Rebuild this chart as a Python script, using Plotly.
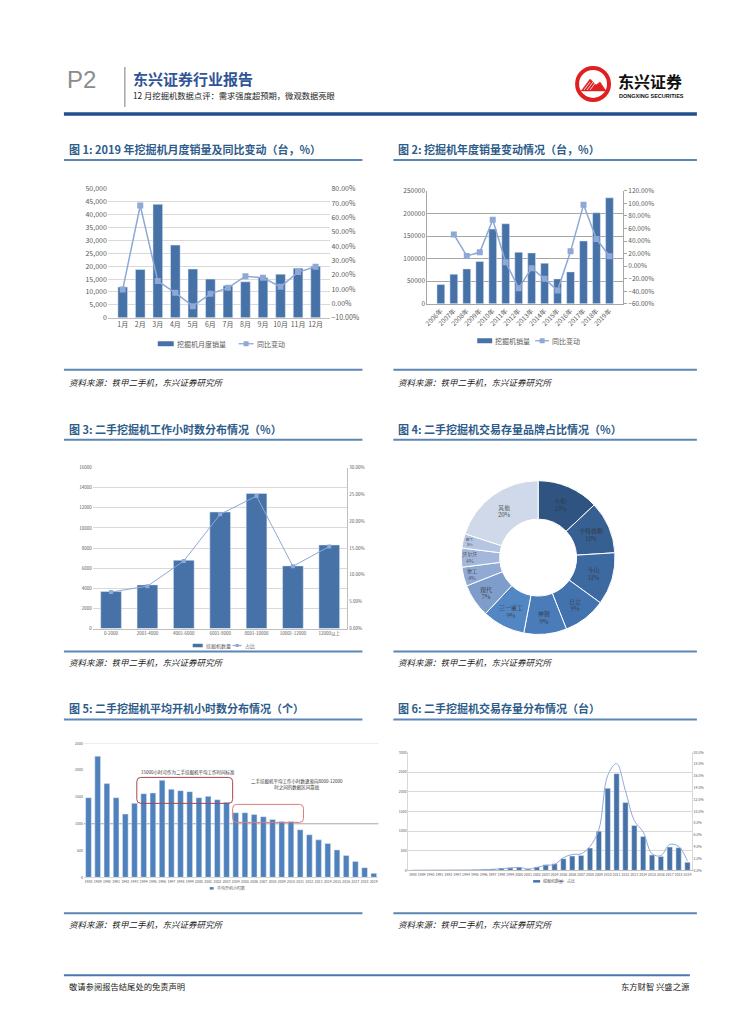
import plotly.graph_objects as go

W, H = 755, 1024
# empirical compensation between layout pixels and photographed pixels
OX, SX = 12.0, 0.995
OY, SY = 13.0, 0.991
def X(px): return ((px - OX) / SX) / W
def Y(py): return 1 - ((py - OY) / SY) / H

FONT = "Noto Sans CJK SC, Noto Sans, sans-serif"
BAR = "#4672A8"
BAR5 = "#4F81BD"
LINE = "#8EA9D6"
TITLE_C = "#2E5C8A"
TICK_C = "#595959"

# ---------------- data ----------------
months = ["1月", "2月", "3月", "4月", "5月", "6月", "7月", "8月", "9月", "10月", "11月", "12月"]
monthly_sales = [11900, 18700, 44000, 28200, 18900, 15000, 12400, 13950, 15600, 16900, 19250, 20000]
monthly_yoy = [9.8, 68.4, 15.6, 7.4, -1.9, 6.7, 10.9, 19.0, 17.9, 11.6, 21.9, 25.6]

years2 = ["2006年", "2007年", "2008年", "2009年", "2010年", "2011年", "2012年", "2013年",
          "2014年", "2015年", "2016年", "2017年", "2018年", "2019年"]
annual_sales = [42600, 65400, 77200, 93400, 165400, 177200, 114000, 112500,
                89700, 55100, 70600, 139000, 201500, 234600]
annual_yoy = [None, 50.6, 16.2, 22.0, 73.9, 6.1, -35.1, -3.4, -20.3, -38.8, 23.6, 97.7, 43.2, 15.7]

hour_bins = ["0-2000", "2001-4000", "4001-6000", "6001-8000", "8001-10000", "10001-12000", "12000以上"]
hour_counts = [3675, 4340, 6790, 11590, 13440, 6230, 8310]
hour_share = [6.8, 7.9, 12.6, 21.3, 24.7, 11.6, 15.3]

brands = ["小松", "卡特彼勒", "斗山", "日立", "神钢", "三一重工", "现代", "徐工", "沃尔沃", "柳工", "其他"]
brand_share = [13, 11, 11, 9, 9, 9, 7, 4, 4, 3, 20]
brand_colors = ["#2F5482", "#365F92", "#3D69A1", "#4373AE", "#4A7CBA", "#5387C4",
                "#7F9DCB", "#91AAD3", "#A3B7DA", "#B5C5E2", "#CFD9EA"]

years32 = [str(y) for y in range(1988, 2020)]
avg_hours = [1487, 2262, 1750, 1487, 1181, 1381, 1562, 1575, 1812, 1644, 1619, 1600, 1487, 1512,
             1450, 1400, 1206, 1206, 1175, 1131, 1081, 1044, 1044, 887, 794, 700, 631, 512,
             406, 294, 181, 75]
hours_ref_levels = [1000, 2500]

stock_counts = [2, 2, 3, 3, 5, 5, 8, 15, 25, 35, 60, 68, 76, 35, 85, 144, 170, 296, 363, 380,
                566, 997, 2087, 2459, 1724, 1141, 862, 389, 355, 592, 575, 203]
stock_share = [0.02, 0.02, 0.03, 0.03, 0.04, 0.04, 0.05, 0.06, 0.11, 0.17, 0.28, 0.39, 0.5, 0.23,
               0.5, 0.85, 1.0, 2.14, 2.7, 2.8, 4.05, 6.9, 16.1, 18.1, 13.5, 8.45, 6.5, 2.8,
               2.5, 4.4, 4.05, 1.6]

fig = go.Figure()

# ---------------- chart 1 ----------------
fig.add_trace(go.Bar(x=months, y=monthly_sales, name="挖掘机月度销量", marker_color=BAR,
                     width=0.55, xaxis="x", yaxis="y", showlegend=False))
fig.add_trace(go.Scatter(x=months, y=monthly_yoy, name="同比变动", mode="lines+markers",
                         line=dict(color=LINE, width=1.5), marker=dict(symbol="square", size=6, color=LINE),
                         xaxis="x", yaxis="y2", showlegend=False))

# ---------------- chart 2 ----------------
fig.add_trace(go.Bar(x=years2, y=annual_sales, name="挖掘机销量", marker_color=BAR,
                     width=0.6, xaxis="x2", yaxis="y3", showlegend=False))
fig.add_trace(go.Scatter(x=years2, y=annual_yoy, name="同比变动", mode="lines+markers",
                         line=dict(color=LINE, width=1.5), marker=dict(symbol="square", size=6, color=LINE),
                         xaxis="x2", yaxis="y4", showlegend=False))

# ---------------- chart 3 ----------------
fig.add_trace(go.Bar(x=hour_bins, y=hour_counts, name="挖掘机数量", marker_color=BAR,
                     width=0.57, xaxis="x3", yaxis="y5", showlegend=False))
fig.add_trace(go.Scatter(x=hour_bins, y=hour_share, name="占比", mode="lines+markers",
                         line=dict(color=LINE, width=1), marker=dict(symbol="square", size=4, color=LINE),
                         xaxis="x3", yaxis="y6", showlegend=False))

# ---------------- chart 4 (donut) ----------------
fig.add_trace(go.Pie(labels=brands, values=brand_share, hole=0.5, sort=False, direction="clockwise",
                     marker=dict(colors=brand_colors, line=dict(color="white", width=1)),
                     texttemplate="%{label}<br>%{value}%", textposition="inside",
                     insidetextorientation="horizontal",
                     textfont=dict(size=6, color="#333333", family="Noto Serif CJK SC, Noto Sans CJK SC"),
                     showlegend=False, hoverinfo="label+value",
                     domain=dict(x=[X(461), X(615)], y=[Y(634), Y(480)])))

# ---------------- chart 5 ----------------
fig.add_trace(go.Bar(x=years32, y=avg_hours, name="平均开机小时数", marker_color=BAR5,
                     width=0.62, xaxis="x4", yaxis="y7", showlegend=False))

# ---------------- chart 6 ----------------
fig.add_trace(go.Bar(x=years32, y=stock_counts, name="挖掘机数量", marker_color=BAR,
                     width=0.6, xaxis="x5", yaxis="y8", showlegend=False))
fig.add_trace(go.Scatter(x=years32, y=stock_share, name="占比", mode="lines",
                         line=dict(color=LINE, width=1, shape="spline"),
                         xaxis="x5", yaxis="y9", showlegend=False))

tickf = lambda s: dict(size=s, color=TICK_C, family=FONT)

def xax(dom, anchor, size, **kw):
    d = dict(domain=dom, anchor=anchor, showgrid=False, showline=True, linecolor="#BFBFBF",
             linewidth=1, ticks="", tickfont=tickf(size), type="category", fixedrange=True)
    d.update(kw)
    return d

def yax(dom, anchor, size, rng, dtick, fmt, suffix="", grid=True, **kw):
    d = dict(domain=dom, anchor=anchor, range=rng, dtick=dtick, tick0=rng[0], tickformat=fmt,
             ticksuffix=suffix, showgrid=grid, gridcolor="#D9D9D9", gridwidth=1, zeroline=False,
             tickfont=tickf(size), showline=False, ticks="", fixedrange=True)
    d.update(kw)
    return d

fig.update_layout(
    width=W, height=H, autosize=False,
    margin=dict(l=0, r=0, t=0, b=0),
    paper_bgcolor="white", plot_bgcolor="white",
    font=dict(family=FONT),
    showlegend=False,
    # chart 1
    xaxis=xax([X(107), X(330)], "y", 7),
    yaxis=yax([Y(317), Y(188)], "x", 7, [0, 50000], 5000, ",d"),
    yaxis2=yax([Y(317), Y(188)], "x", 7, [-10, 80], 10, ".2f", "%", grid=False,
               overlaying="y", side="right"),
    # chart 2
    xaxis2=xax([X(427), X(623)], "y3", 6.5, tickangle=-45, linecolor="#A6A6A6"),
    yaxis3=yax([Y(303), Y(190)], "x2", 6.5, [0, 250000], 50000, "d",
               gridcolor="#A6A6A6", showline=True, linecolor="#A6A6A6"),
    yaxis4=yax([Y(303), Y(190)], "x2", 6.5, [-60, 120], 20, ".2f", "%", grid=False,
               overlaying="y3", side="right", showline=True, linecolor="#A6A6A6",
               ticks="outside", ticklen=3, tickcolor="#A6A6A6"),
    # chart 3
    xaxis3=xax([X(92), X(347)], "y5", 4.5),
    yaxis5=yax([Y(628), Y(467)], "x3", 4.5, [0, 16000], 2000, "d"),
    yaxis6=yax([Y(628), Y(467)], "x3", 4.5, [0, 30], 5, ".2f", "%", grid=False,
               overlaying="y5", side="right", showline=True, linecolor="#BFBFBF"),
    # chart 5
    xaxis4=xax([X(83), X(378)], "y7", 3.5, tickangle=0, linecolor="#D9D9D9"),
    yaxis7=yax([Y(877), Y(743)], "x4", 3.5, [0, 2500], 500, "d", grid=False),
    # chart 6
    xaxis5=xax([X(408), X(692)], "y8", 3.5, tickangle=0),
    yaxis8=yax([Y(870), Y(752)], "x5", 3.5, [0, 3000], 500, "d",
               showline=True, linecolor="#D9D9D9"),
    yaxis9=yax([Y(870), Y(752)], "x5", 3.5, [0, 20], 2, ".1f", "%", grid=False,
               overlaying="y8", side="right", showline=True, linecolor="#D9D9D9"),
)

shapes = []
annots = []

def line(x0, y0, x1, y1, color, width):
    shapes.append(dict(type="line", xref="paper", yref="paper", x0=X(x0), y0=Y(y0), x1=X(x1), y1=Y(y1),
                       line=dict(color=color, width=width)))

def rect(x0, y0, x1, y1, fill=None, color=None, width=0):
    d = dict(type="rect", xref="paper", yref="paper", x0=X(x0), y0=Y(y1), x1=X(x1), y1=Y(y0),
             line=dict(color=color or "rgba(0,0,0,0)", width=width))
    if fill:
        d["fillcolor"] = fill
    shapes.append(d)

def round_rect(x0, y0, x1, y1, r, color, width):
    p = (f"M {X(x0 + r)} {Y(y0)} L {X(x1 - r)} {Y(y0)} Q {X(x1)} {Y(y0)} {X(x1)} {Y(y0 + r)} "
         f"L {X(x1)} {Y(y1 - r)} Q {X(x1)} {Y(y1)} {X(x1 - r)} {Y(y1)} "
         f"L {X(x0 + r)} {Y(y1)} Q {X(x0)} {Y(y1)} {X(x0)} {Y(y1 - r)} "
         f"L {X(x0)} {Y(y0 + r)} Q {X(x0)} {Y(y0)} {X(x0 + r)} {Y(y0)} Z")
    shapes.append(dict(type="path", xref="paper", yref="paper", path=p,
                       line=dict(color=color, width=width)))

def text(x, y, s, size, color="#000000", xanchor="left", weight="normal", style="normal", family=FONT):
    annots.append(dict(x=X(x), y=Y(y), xref="paper", yref="paper", text=s, showarrow=False,
                       xanchor=xanchor, yanchor="middle",
                       font=dict(size=size, color=color, family=family, weight=weight, style=style)))

def legend_bar(x0, x1, y, h, label, size, color=BAR):
    rect(x0, y - h / 2, x1, y + h / 2, fill=color)
    text(x1 + 1, y, label, size, color=TICK_C)

def legend_line(x0, x1, y, label, size, msize, marker=True):
    line(x0, y, x1, y, LINE, 1.3)
    if marker:
        xm = (x0 + x1) / 2
        rect(xm - msize / 2, y - msize / 2, xm + msize / 2, y + msize / 2, fill=LINE)
    text(x1 + 1, y, label, size, color=TICK_C)

# header
text(64, 79, "P2", 24, color="#8C8C8C", family="Liberation Sans, Arial")
line(124, 66, 124, 106, "#A6A6A6", 1.5)
text(130, 78, "东兴证券行业报告", 15, color="#2F5597", weight="bold")
text(130, 94, "12 月挖掘机数据点评：需求强度超预期，微观数据亮眼", 8.3, color="#222222")
line(63, 113, 697, 113, "#1F4E8C", 3.5)

# logo
shapes.append(dict(type="circle", xref="paper", yref="paper", x0=X(577), y0=Y(99), x1=X(609), y1=Y(67),
                   line=dict(color="#E02020", width=4), fillcolor="white"))
shapes.append(dict(type="path", xref="paper", yref="paper",
                   path=f"M {X(581)} {Y(90)} L {X(590)} {Y(78)} L {X(596)} {Y(84)} L {X(600)} {Y(81)} L {X(606)} {Y(90)} Z",
                   fillcolor="#E02020", line=dict(color="#E02020", width=0.5)))
for k in range(3):
    line(584 + 3 * k, 89, 590 + 3 * k, 81, "white", 0.8)
text(616, 80, "东兴证券", 16, color="#111111", weight="bold")
text(617, 95, "DONGXING SECURITIES", 5.5, color="#111111", weight="bold", family="Liberation Sans, Arial")

# chart titles and underlines
titles = [
    (66, 148, "图 1: 2019 年挖掘机月度销量及同比变动（台，%）"),
    (396, 148, "图 2: 挖掘机年度销量变动情况（台，%）"),
    (66, 428, "图 3: 二手挖掘机工作小时数分布情况（%）"),
    (396, 428, "图 4: 二手挖掘机交易存量品牌占比情况（%）"),
    (66, 708, "图 5: 二手挖掘机平均开机小时数分布情况（个）"),
    (396, 708, "图 6: 二手挖掘机交易存量分布情况（台）"),
]
for x, y, s in titles:
    text(x, y, s, 11, color=TITLE_C, weight="bold")
for y in (159, 439, 719):
    line(63, y, 362, y, "#5B86B5", 2)
    line(393, y, 697, y, "#5B86B5", 2)

# source lines
for y in (369, 651, 913):
    line(63, y, 362, y, "#5B86B5", 2)
    line(393, y, 697, y, "#5B86B5", 2)
for y in (381, 662, 924):
    text(66, y, "资料来源：铁甲二手机，东兴证券研究所", 8.5, color="#222222", style="italic")
    text(396, y, "资料来源：铁甲二手机，东兴证券研究所", 8.5, color="#222222", style="italic")

# legends (drawn manually to match the small swatches)
legend_bar(157, 173, 343, 5, "挖掘机月度销量", 7)
legend_line(238, 253, 343, "同比变动", 7, 5)
legend_bar(477, 492, 340, 5, "挖掘机销量", 7)
legend_line(535, 549, 340, "同比变动", 7, 5)
legend_bar(192, 202, 645, 3.5, "挖掘机数量", 5)
legend_line(232, 241, 645, "占比", 5, 3)
legend_bar(209, 213, 888, 2.5, "平均开机小时数", 4, color=BAR5)
legend_bar(533, 540, 881, 2.5, "挖掘机数量", 4)
legend_line(558, 564, 881, "占比", 4, 0, marker=False)

# chart 5 reference gridlines (top and 1000 level)
for lv, col in zip(hours_ref_levels, ["#A6A6A6", "#D9D9D9"]):
    shapes.append(dict(type="line", xref="x4 domain", yref="y7", x0=0, x1=1, y0=lv, y1=lv,
                       line=dict(color=col, width=1), layer="below"))

# chart 5 callouts
round_rect(136, 777, 232, 803, 4, "#A8484C", 1)
round_rect(232, 804, 303, 822, 4, "#E07A7A", 1)
text(138, 772, "15000小时可作为二手挖掘机平均工作时间标准", 4.5, color="#333333")
text(248, 784, "二手挖掘机平均工作小时数逐渐向8000-12000<br>时之间的数据区间靠拢", 4.5, color="#333333")

# footer
line(63, 975, 690, 975, "#4A78AE", 2)
text(66, 986, "敬请参阅报告结尾处的免责声明", 8.3, color="#222222")
text(692, 986, "东方财智 兴盛之源", 8.3, color="#222222", xanchor="right")

fig.update_layout(shapes=shapes, annotations=annots)
fig.write_html("out.html")
